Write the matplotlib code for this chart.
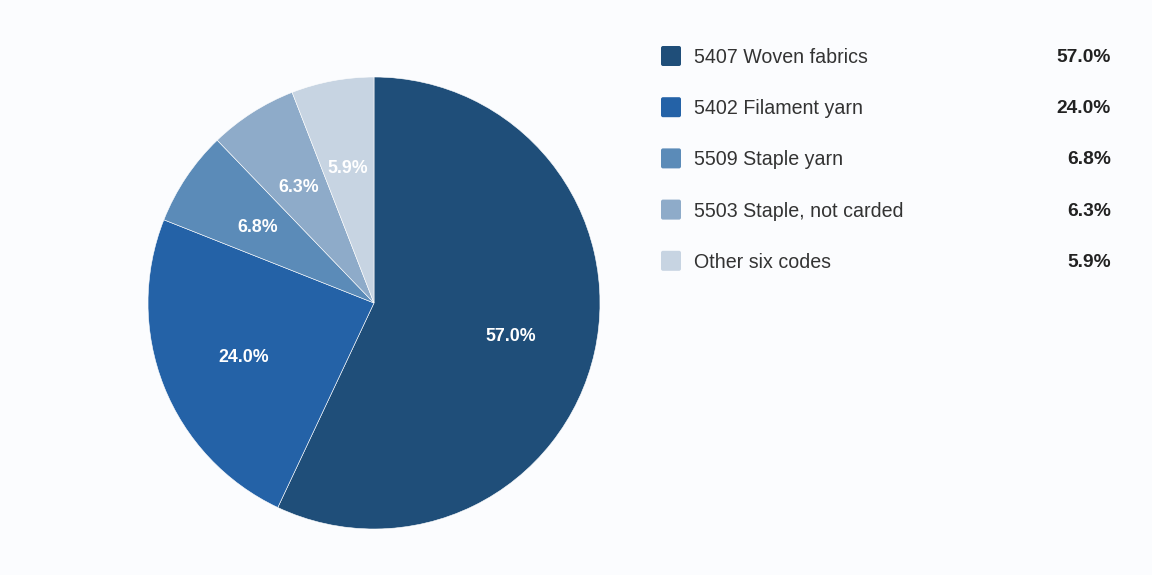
import matplotlib.pyplot as plt
from matplotlib.patches import FancyBboxPatch

plt.rcParams['font.family'] = ['Liberation Sans', 'DejaVu Sans']

# Share of the five groups
labels = ['5407 Woven fabrics', '5402 Filament yarn', '5509 Staple yarn',
          '5503 Staple, not carded', 'Other six codes']
shares = [57.0, 24.0, 6.8, 6.3, 5.9]
colors = ['#1f4e79', '#2462a7', '#5b8bb8', '#8eabc9', '#c7d4e2']

W, H = 1152, 575
bg = '#fbfcfe'
fig = plt.figure(figsize=(W / 100, H / 100), dpi=100, facecolor=bg)

# Pie: centre (374, 303) px, radius 226 px
cx, cy, r = 374, 303, 226
ax = fig.add_axes([(cx - r) / W, (H - cy - r) / H, 2 * r / W, 2 * r / H])
ax.set_facecolor(bg)
wedges, texts, autotexts = ax.pie(
    shares, colors=colors, startangle=90, counterclock=False,
    autopct='%.1f%%', pctdistance=0.62,
    wedgeprops=dict(edgecolor='#ffffff', linewidth=0.4),
    textprops=dict(color='white', fontsize=12.8, fontweight='bold'))
ax.set_xlim(-1, 1)
ax.set_ylim(-1, 1)
# nudge the slice labels down a touch (baseline centred like the original)
for t in autotexts:
    x, y = t.get_position()
    t.set_position((x, y - 0.013))

# Legend drawn in pixel coordinates
lg = fig.add_axes([0, 0, 1, 1], facecolor='none')
lg.set_xlim(0, W)
lg.set_ylim(H, 0)
lg.axis('off')
y0, dy = 56, 51.2
for i, (lab, val, col) in enumerate(zip(labels, shares, colors)):
    y = y0 + i * dy
    lg.add_patch(FancyBboxPatch((661, y - 10), 20, 20,
                                boxstyle='round,pad=0,rounding_size=2',
                                facecolor=col, edgecolor='none'))
    lg.text(694, y + 1.5, lab, fontsize=14.1, color='#333333', va='center', ha='left')
    lg.text(1111, y + 1.5, '%.1f%%' % val, fontsize=13.8, color='#222222',
            fontweight='bold', va='center', ha='right')

fig.savefig('out.png', dpi=100, facecolor=bg)
